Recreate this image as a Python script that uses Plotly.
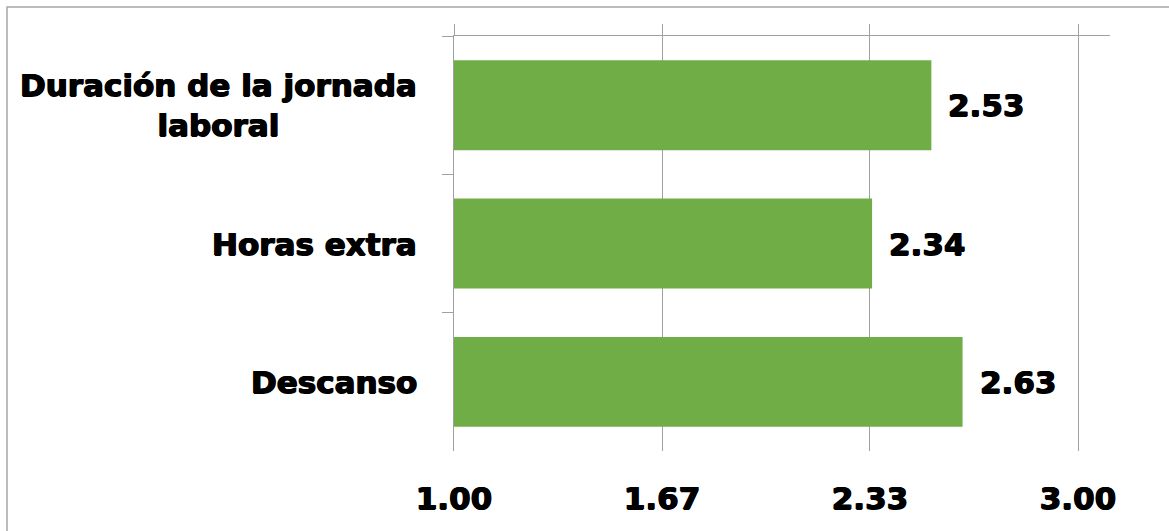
import plotly.graph_objects as go

# ---- data ----
categories = ["Duración de la jornada laboral", "Horas extra", "Descanso"]
category_labels = ["Duración de la jornada<br>laboral", "Horas extra", "Descanso"]
values = [2.53, 2.34, 2.63]
tick_values = [1.0, 1.6667, 2.3333, 3.0]
tick_labels = ["1.00", "1.67", "2.33", "3.00"]

# ---- style ----
W, H = 1169, 531
L, T = 454, 36
R = W - 1110
B = H - 451
PW, PH = W - L - R, H - T - B
X_RANGE = [1.0, 1.0 + PW / 312.0]
GREEN = "#70AD47"
GRID = "#A0A0A0"
FONT = dict(family="DejaVu Sans", size=31, color="black", weight="bold",
            shadow="0.7px 0 0 black, -0.7px 0 0 black, 0 0.6px 0 black")


def px_x(p):
    return (p - L) / PW


def px_y(p):
    return (H - B - p) / PH


fig = go.Figure()
fig.add_trace(go.Bar(
    y=categories, x=values, orientation="h",
    marker=dict(color=GREEN, line=dict(width=0)),
    hoverinfo="skip", showlegend=False,
))
# helper trace so the top (mirror) axis is drawn
fig.add_trace(go.Scatter(
    y=categories, x=values, xaxis="x2", mode="none",
    hoverinfo="skip", showlegend=False,
))

annotations = []
for cat, lab in zip(categories, category_labels):
    annotations.append(dict(
        xref="paper", yref="y", x=0, y=cat, xanchor="right", yanchor="middle",
        xshift=-35, text=lab, align="center", showarrow=False, font=FONT,
    ))
for cat, v in zip(categories, values):
    annotations.append(dict(
        xref="x", yref="y", x=v, y=cat, xanchor="left", yanchor="middle",
        xshift=15, text=f"{v:.2f}", showarrow=False, font=FONT,
    ))

fig.update_layout(
    width=W, height=H,
    margin=dict(l=L, r=R, t=T, b=B, pad=0),
    paper_bgcolor="white", plot_bgcolor="white",
    bargap=0.35,
    hovermode=False,
    xaxis=dict(
        range=X_RANGE, tickvals=tick_values, ticktext=tick_labels,
        showgrid=True, gridcolor=GRID, gridwidth=1, zeroline=False,
        showline=False, ticks="", tickfont=FONT, ticklabelstandoff=26,
        fixedrange=True,
    ),
    xaxis2=dict(
        overlaying="x", side="top", anchor="y", range=X_RANGE,
        tickvals=tick_values, showticklabels=False, ticks="outside",
        ticklen=11, tickcolor=GRID, tickwidth=1, showline=True,
        linecolor=GRID, linewidth=1, showgrid=False, zeroline=False,
    ),
    yaxis=dict(
        type="category", categoryorder="array", categoryarray=categories,
        autorange="reversed", showline=True, linecolor=GRID, linewidth=1,
        ticks="outside", ticklen=11, tickcolor=GRID, tickwidth=1,
        tickson="boundaries", showticklabels=False, showgrid=False,
        zeroline=False,
    ),
    annotations=annotations,
    shapes=[dict(
        type="rect", xref="paper", yref="paper",
        x0=px_x(7), x1=px_x(1200), y0=px_y(560), y1=px_y(7),
        line=dict(color="#A6A6A6", width=1.5), fillcolor="rgba(0,0,0,0)",
        layer="below",
    )],
)

fig.write_html(
    "out.html",
    config={"displayModeBar": False, "staticPlot": True},
    post_script="document.body.style.margin='0';document.body.style.overflow='hidden';",
)
